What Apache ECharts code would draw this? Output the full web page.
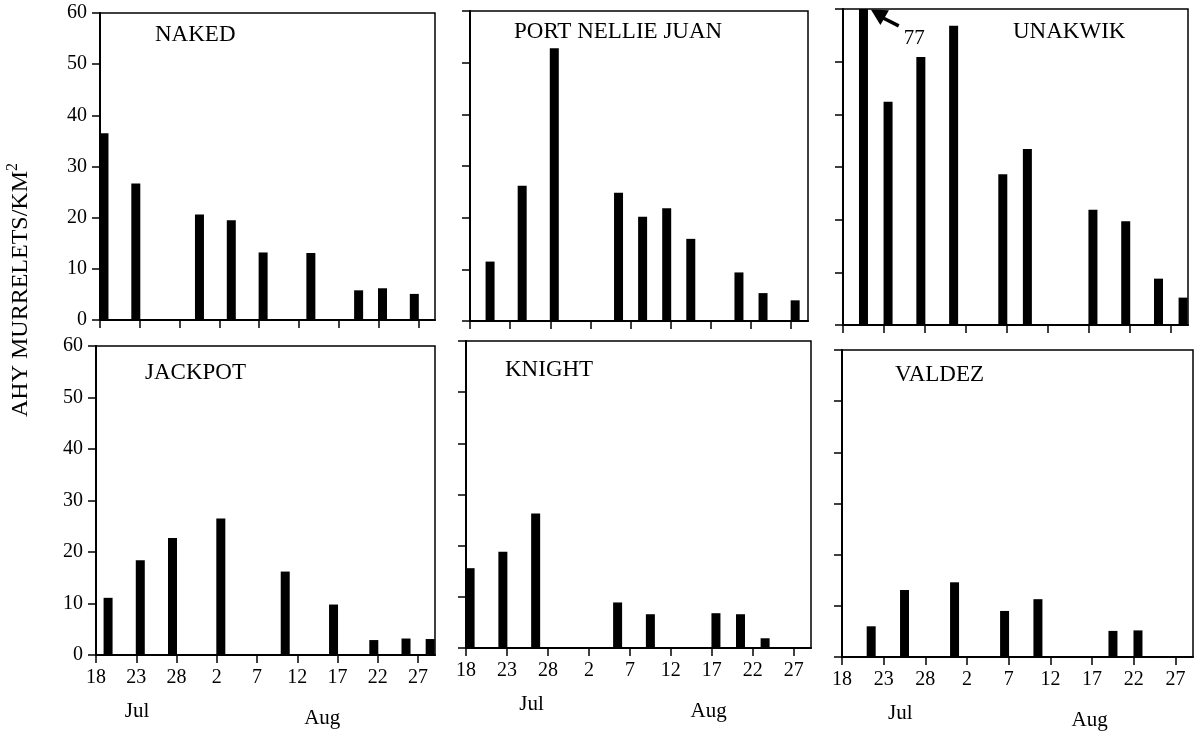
<!DOCTYPE html>
<html><head><meta charset="utf-8">
<script src="https://cdn.jsdelivr.net/npm/echarts@6/dist/echarts.min.js"></script>
<style>html,body{margin:0;padding:0;background:#fff}#c{width:1203px;height:736px}</style>
</head><body><div id="c"></div>
<script>
// ---- data ----
const siteNames = ['NAKED', 'PORT NELLIE JUAN', 'UNAKWIK', 'JACKPOT', 'KNIGHT', 'VALDEZ'];

const nakedDates = ['Jul 18','Jul 22','Jul 30','Aug 3','Aug 7','Aug 13','Aug 19','Aug 22','Aug 26'];
const nakedValues = [36.5, 26.7, 20.6, 19.5, 13.2, 13.1, 5.8, 6.2, 5.1];

const portNellieJuanDates = ['Jul 20','Jul 24','Jul 28','Aug 5','Aug 8','Aug 11','Aug 14','Aug 20','Aug 23','Aug 27'];
const portNellieJuanValues = [11.5, 26.2, 52.8, 24.8, 20.2, 21.8, 15.9, 9.4, 5.4, 4.0];

const unakwikDates = ['Jul 20','Jul 23','Jul 27','Jul 31','Aug 6','Aug 9','Aug 17','Aug 21','Aug 25','Aug 28'];
const unakwikValues = [77, 42.4, 50.9, 56.8, 28.6, 33.4, 21.9, 19.7, 8.8, 5.2];

const jackpotDates = ['Jul 19','Jul 23','Jul 27','Aug 2','Aug 10','Aug 16','Aug 21','Aug 25','Aug 28'];
const jackpotValues = [11.1, 18.4, 22.7, 26.5, 16.2, 9.8, 2.9, 3.2, 3.1];

const knightDates = ['Jul 18','Jul 22','Jul 26','Aug 5','Aug 9','Aug 17','Aug 20','Aug 23'];
const knightValues = [15.6, 18.8, 26.3, 8.9, 6.6, 6.8, 6.6, 1.9];

const valdezDates = ['Jul 21','Jul 25','Jul 31','Aug 6','Aug 10','Aug 19','Aug 22'];
const valdezValues = [6.0, 13.1, 14.6, 9.0, 11.3, 5.1, 5.2];

const xTickDates = ['Jul 18','Jul 23','Jul 28','Aug 2','Aug 7','Aug 12','Aug 17','Aug 22','Aug 27'];
const yTickValues = [0, 10, 20, 30, 40, 50, 60];
const monthNames = ['Jul', 'Aug'];
const yAxisTitle = 'AHY MURRELETS/KM';

// ---- helpers ----
function dayOffset(s) {            // days since Jul 18
  const [m, d] = s.split(' ');
  return m === 'Jul' ? (+d - 18) : (+d + 13);
}
function dayLabel(v) {
  const d = Math.round(v);
  return d <= 13 ? String(18 + d) : String(d - 13);
}
const allDates = [nakedDates, portNellieJuanDates, unakwikDates, jackpotDates, knightDates, valdezDates];
const allValues = [nakedValues, portNellieJuanValues, unakwikValues, jackpotValues, knightValues, valdezValues];

// ---- layout ----
const grids = [
  {left: 100, top: 13,  width: 335, height: 307},
  {left: 470, top: 11,  width: 338, height: 310},
  {left: 843, top: 9,   width: 345, height: 316},
  {left: 96,  top: 346, width: 339, height: 309},
  {left: 466, top: 341, width: 345, height: 307},
  {left: 842, top: 350, width: 351, height: 307}
];
const titlePos = [
  {left: 155, top: 23}, {left: 514, top: 20}, {left: 1013, top: 20},
  {left: 145, top: 361}, {left: 505, top: 358}, {left: 895, top: 363}
];
const monthPos = {3: [5.1, 28.1], 4: [8.0, 29.6], 5: [7.0, 29.7]};
const X_MAX = 42.1, Y_MAX = 60;
const SERIF = 'Liberation Serif';

const xTickVals = xTickDates.map(dayOffset);

const yTitleGraphic = {
  id: 'ytitle', type: 'text', x: 19, y: 290, rotation: Math.PI / 2,
  style: {
    text: '{a|' + yAxisTitle + '}{s|2}',
    align: 'center', verticalAlign: 'middle',
    rich: {
      a: {fontFamily: SERIF, fontSize: 24, color: '#000', lineHeight: 28, verticalAlign: 'bottom'},
      s: {fontFamily: SERIF, fontSize: 16, color: '#000', lineHeight: 28, verticalAlign: 'top'}
    }
  }
};

const option = {
  animation: false,
  backgroundColor: '#fff',
  title: siteNames.map((n, i) => ({
    text: n, left: titlePos[i].left, top: titlePos[i].top, padding: 0,
    textStyle: {fontFamily: SERIF, fontWeight: 'normal', fontSize: 23, color: '#000'}
  })),
  grid: grids.map(g => Object.assign({show: true, borderColor: '#000', borderWidth: 1.5,
    backgroundColor: 'transparent', containLabel: false, outerBoundsMode: 'none'}, g)),
  xAxis: [],
  yAxis: [],
  series: [],
  graphic: [yTitleGraphic]
};

let arrowInfo = null;
for (let i = 0; i < 6; i++) {
  const bottomRow = i >= 3;
  const leftCol = i % 3 === 0;
  option.xAxis.push({
    type: 'value', gridIndex: i, min: 0, max: X_MAX, position: 'bottom',
    axisLine: {show: true, onZero: false, lineStyle: {color: '#000', width: 2}},
    axisTick: {show: true, length: 8, inside: false, customValues: xTickVals, lineStyle: {color: '#000', width: 1.5}},
    axisLabel: {show: bottomRow, customValues: xTickVals, formatter: dayLabel, margin: 13,
      fontFamily: SERIF, fontSize: 20, color: '#000'},
    splitLine: {show: false}
  });
  option.yAxis.push({
    type: 'value', gridIndex: i, min: 0, max: Y_MAX, interval: 10,
    axisLine: {show: true, lineStyle: {color: '#000', width: 2}},
    axisTick: {show: true, length: 8, inside: false, lineStyle: {color: '#000', width: 1.5}},
    axisLabel: {show: leftCol, margin: 13, fontFamily: SERIF, fontSize: 20, color: '#000',
      customValues: yTickValues},
    splitLine: {show: false}
  });
  const data = allDates[i].map((d, k) => [dayOffset(d) + 0.5, allValues[i][k]]);
  const s = {
    type: 'bar', xAxisIndex: i, yAxisIndex: i, data: data, barWidth: 9,
    itemStyle: {color: '#000'}, clip: true, silent: true
  };
  const clippedIdx = allValues[i].findIndex(v => v > Y_MAX);
  if (clippedIdx >= 0) {
    const ax = data[clippedIdx][0];
    const tail = [ax + 4.3, 56.8], neck = [ax + 2.4, 58.3], tip = [ax + 0.9, 59.9];
    arrowInfo = {grid: i, tail: tail, tip: tip};
    s.markLine = {
      silent: true, clip: false, symbol: ['none', 'none'],
      lineStyle: {color: '#000', width: 3.5, type: 'solid'}, label: {show: false},
      data: [[{coord: tail}, {coord: neck}]]
    };
    s.markPoint = {
      silent: true, symbol: 'circle', symbolSize: 1, itemStyle: {color: 'rgba(0,0,0,0)'},
      label: {show: true, position: 'inside', formatter: String(allValues[i][clippedIdx]),
        fontFamily: SERIF, fontSize: 21, color: '#000'},
      data: [{coord: [ax + 6.2, 54.4]}]
    };
  }
  option.series.push(s);
}

// month labels below the bottom-row axes
[3, 4, 5].forEach(i => {
  option.xAxis.push({
    type: 'value', gridIndex: i, min: 0, max: X_MAX, position: 'bottom',
    axisLine: {show: false}, axisTick: {show: false}, splitLine: {show: false},
    axisLabel: {show: true, customValues: monthPos[i], margin: 46,
      formatter: v => '{' + (v < 20 ? 'j' : 'a') + '|' + (v < 20 ? monthNames[0] : monthNames[1]) + '}',
      rich: {
        j: {fontFamily: SERIF, fontSize: 21, color: '#000'},
        a: {fontFamily: SERIF, fontSize: 21, color: '#000', padding: [7, 0, 0, 0]}
      }
    }
  });
});

const chart = echarts.init(document.getElementById('c'), null, {renderer: 'canvas'});
chart.setOption(option);

// arrowhead of the "off-scale" annotation, anchored to the axis scales
if (arrowInfo) {
  const p0 = chart.convertToPixel({gridIndex: arrowInfo.grid}, arrowInfo.tail);
  const p1 = chart.convertToPixel({gridIndex: arrowInfo.grid}, arrowInfo.tip);
  let dx = p1[0] - p0[0], dy = p1[1] - p0[1];
  const L = Math.hypot(dx, dy); dx /= L; dy /= L;
  const back = 16, half = 8.5;
  const bx = p1[0] - dx * back, by = p1[1] - dy * back;
  const px = -dy, py = dx;
  chart.setOption({graphic: [yTitleGraphic, {
    id: 'arrowhead', type: 'polygon', silent: true,
    shape: {points: [p1, [bx + px * half, by + py * half], [bx - px * half, by - py * half]]},
    style: {fill: '#000'}
  }]});
}
</script>
</body></html>
